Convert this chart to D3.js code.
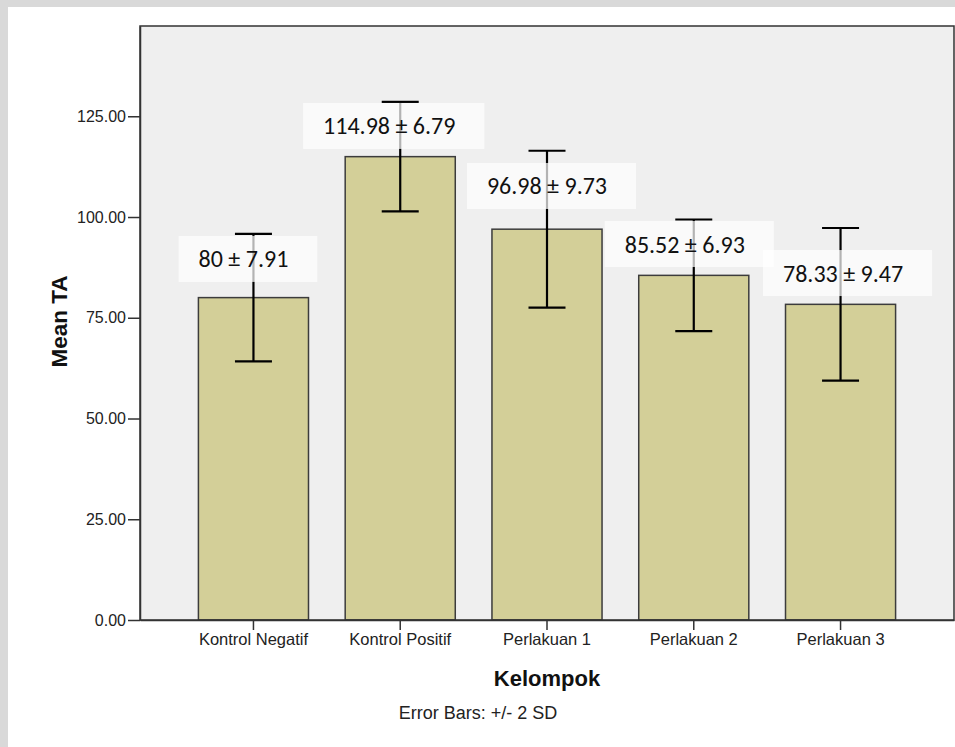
<!DOCTYPE html>
<html>
<head>
<meta charset="utf-8">
<script src="https://cdn.jsdelivr.net/npm/d3@7/dist/d3.min.js"></script>
<style>
  html, body { margin: 0; padding: 0; background: #d9d9d9; }
  svg { display: block; }
</style>
</head>
<body>
<svg id="chart" width="955" height="747"></svg>
<script>
// ---- data ----
const categories = ["Kontrol Negatif", "Kontrol Positif", "Perlakuan 1", "Perlakuan 2", "Perlakuan 3"];
const means = [80, 114.98, 96.98, 85.52, 78.33];
const sds = [7.91, 6.79, 9.73, 6.93, 9.47];
const yTickValues = [0, 25, 50, 75, 100, 125];
const sdMultiplier = 2;
const yLabel = "Mean TA";
const xLabel = "Kelompok";
const footnote = "Error Bars: +/- 2 SD";

// ---- layout (annotation placement: [dx from bar centre in px, centre value on y scale]) ----
const labelAt = [[-10, 89.6], [-11, 122.6], [0, 107.7], [-9, 93.3], [2.5, 86.1]];

const svg = d3.select("#chart");
const W = 955, H = 747;
const plot = { left: 140, right: 954, top: 26, bottom: 620 };

// page frame
svg.append("rect").attr("x", 0).attr("y", 0).attr("width", W).attr("height", H).attr("fill", "#d9d9d9");
svg.append("rect").attr("x", 8).attr("y", 7).attr("width", W - 8).attr("height", H - 7).attr("fill", "#ffffff");

const x = d3.scaleBand().domain(categories).range([plot.left, plot.right])
  .paddingInner(0.25).paddingOuter(0.398);
const y = d3.scaleLinear().domain([0, 147.4]).range([plot.bottom, plot.top]);

// plot background
svg.append("rect").attr("x", plot.left).attr("y", plot.top)
  .attr("width", plot.right - plot.left).attr("height", plot.bottom - plot.top)
  .attr("fill", "#efefef");

const data = categories.map((c, i) => ({ c, m: means[i], sd: sds[i], i }));

// bars
svg.append("g").selectAll("rect").data(data).join("rect")
  .attr("x", d => x(d.c)).attr("y", d => y(d.m))
  .attr("width", x.bandwidth()).attr("height", d => y(0) - y(d.m))
  .attr("fill", "#d3cf98").attr("stroke", "#3c3c3c").attr("stroke-width", 1.5);

// error bars
const eb = svg.append("g").attr("stroke", "#000").attr("stroke-width", 2.2).attr("fill", "none");
const capHalf = 18.5;
data.forEach(d => {
  const cx = x(d.c) + x.bandwidth() / 2;
  const hi = y(d.m + sdMultiplier * d.sd), lo = y(d.m - sdMultiplier * d.sd);
  eb.append("line").attr("x1", cx).attr("x2", cx).attr("y1", hi).attr("y2", lo);
  eb.append("line").attr("x1", cx - capHalf).attr("x2", cx + capHalf).attr("y1", hi).attr("y2", hi);
  eb.append("line").attr("x1", cx - capHalf).attr("x2", cx + capHalf).attr("y1", lo).attr("y2", lo);
});

// plot frame
svg.append("rect").attr("x", plot.left).attr("y", plot.top)
  .attr("width", plot.right - plot.left).attr("height", plot.bottom - plot.top)
  .attr("fill", "none").attr("stroke", "#333").attr("stroke-width", 1.5);

// y axis
const yAxis = svg.append("g").attr("transform", `translate(${plot.left},0)`)
  .call(d3.axisLeft(y).tickValues(yTickValues).tickFormat(d3.format(".2f"))
    .tickSize(12).tickSizeOuter(0).tickPadding(2));
yAxis.select(".domain").attr("stroke", "#333").attr("stroke-width", 1.5);
yAxis.selectAll(".tick line").attr("stroke", "#333").attr("stroke-width", 1.5);
yAxis.selectAll(".tick text").attr("font-family", "'Liberation Sans', Arial, sans-serif")
  .attr("font-size", 16).attr("fill", "#222");

// x axis
const xAxis = svg.append("g").attr("transform", `translate(0,${plot.bottom})`)
  .call(d3.axisBottom(x).tickSize(10).tickPadding(3).tickSizeOuter(0));
xAxis.select(".domain").attr("stroke", "#333").attr("stroke-width", 1.5);
xAxis.selectAll(".tick line").attr("stroke", "#333").attr("stroke-width", 1.5);
xAxis.selectAll(".tick text").attr("font-family", "'Liberation Sans', Arial, sans-serif")
  .attr("font-size", 16.5).attr("fill", "#222");

// axis titles
svg.append("text").attr("transform", `translate(67,321.5) rotate(-90)`)
  .attr("text-anchor", "middle").attr("font-family", "'Liberation Sans', Arial, sans-serif")
  .attr("font-weight", "bold").attr("font-size", 22.5).attr("fill", "#111").text(yLabel);
svg.append("text").attr("x", (plot.left + plot.right) / 2).attr("y", 686)
  .attr("text-anchor", "middle").attr("font-family", "'Liberation Sans', Arial, sans-serif")
  .attr("font-weight", "bold").attr("font-size", 22).attr("fill", "#111").text(xLabel);
svg.append("text").attr("x", 478).attr("y", 719)
  .attr("text-anchor", "middle").attr("font-family", "'Liberation Sans', Arial, sans-serif")
  .attr("font-size", 18).attr("fill", "#222").text(footnote);

// value annotations (semi-transparent boxes)
const lab = svg.append("g");
data.forEach(d => {
  const [dx, v] = labelAt[d.i];
  const cx = x(d.c) + x.bandwidth() / 2 + dx;
  const cy = y(v);
  const g = lab.append("g");
  const rect = g.append("rect");
  const t = g.append("text").attr("font-family", "Carlito, Calibri, Lato, sans-serif")
    .attr("font-size", 24).attr("fill", "#111").attr("text-anchor", "middle")
    .attr("x", cx).attr("y", cy + 8.5).text(`${d.m} \u00B1 ${d.sd}`);
  const tw = t.node().getComputedTextLength();
  rect.attr("x", cx - tw / 2 - 20).attr("y", cy - 23).attr("width", tw + 49).attr("height", 46)
    .attr("fill", "#ffffff").attr("fill-opacity", 0.7);
});
</script>
</body>
</html>
